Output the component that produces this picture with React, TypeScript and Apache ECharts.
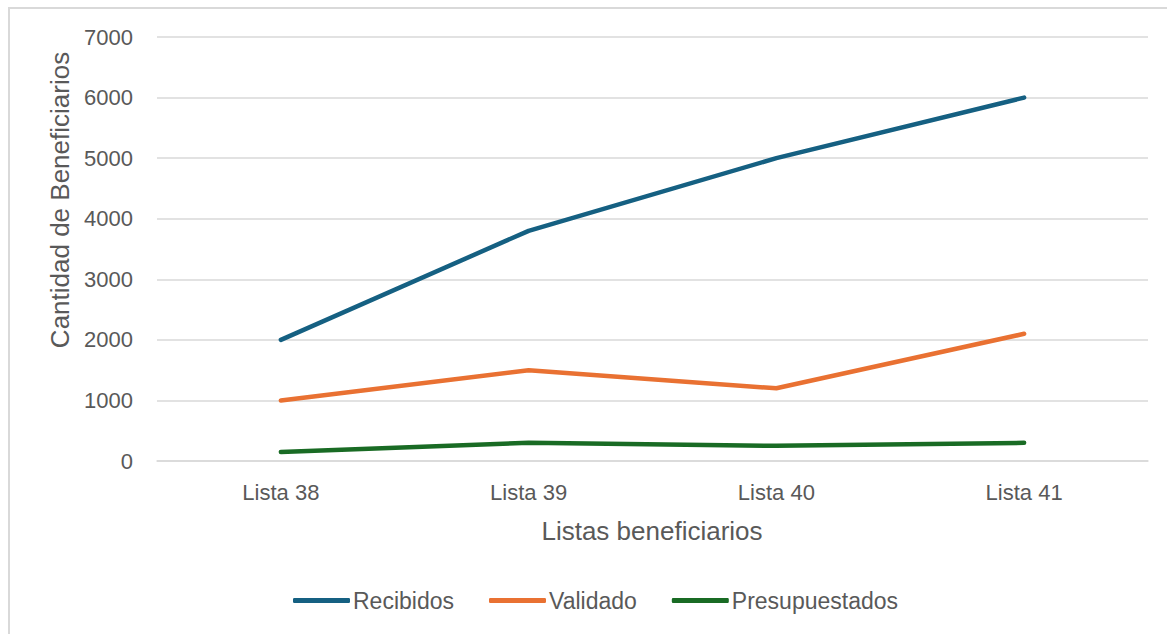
import React, { useEffect, useRef } from "react";
import * as echarts from "echarts";

const categories = ["Lista 38", "Lista 39", "Lista 40", "Lista 41"];
const recibidos = [2000, 3800, 5000, 6000];
const validado = [1000, 1500, 1200, 2100];
const presupuestados = [150, 300, 250, 300];
const seriesNames = ["Recibidos", "Validado", "Presupuestados"];
const colors = ["#156082", "#E97132", "#196B24"];

const FONT = "'Liberation Sans', Arial, sans-serif";
const TXT = "#595959";

export default function App() {
  const ref = useRef<HTMLDivElement>(null);
  useEffect(() => {
    if (!ref.current) return;
    const chart = echarts.init(ref.current, undefined, { renderer: "svg" });
    const data = [recibidos, validado, presupuestados];
    chart.setOption({
      animation: false,
      backgroundColor: "#ffffff",
      textStyle: { fontFamily: FONT, color: TXT },
      grid: { left: 157, right: 19, top: 37, bottom: 173, containLabel: false },
      graphic: [
        {
          type: "rect",
          shape: { x: 9, y: 8, width: 1175, height: 640 },
          style: { fill: "none", stroke: "#d9d9d9", lineWidth: 2 },
          silent: true,
        },
        {
          type: "text",
          x: 60,
          y: 200,
          rotation: Math.PI / 2,
          style: {
            text: "Cantidad de Beneficiarios",
            fill: TXT,
            font: `26px ${FONT}`,
            align: "center",
            verticalAlign: "middle",
          },
        },
        {
          type: "text",
          x: 652,
          y: 531,
          style: {
            text: "Listas beneficiarios",
            fill: TXT,
            font: `26px ${FONT}`,
            align: "center",
            verticalAlign: "middle",
          },
        },
      ],
      legend: {
        data: seriesNames,
        top: 584,
        left: 288,
        icon: "roundRect",
        itemWidth: 57,
        itemHeight: 5,
        itemGap: 35,
        textStyle: { fontFamily: FONT, fontSize: 23, color: TXT, padding: [0, 0, 0, -2] },
      },
      xAxis: {
        type: "category",
        data: categories,
        boundaryGap: true,
        axisLine: { show: true, lineStyle: { color: "#d9d9d9", width: 1.5 } },
        axisTick: { show: false },
        axisLabel: { fontFamily: FONT, fontSize: 22, color: TXT, margin: 20 },
      },
      yAxis: {
        type: "value",
        min: 0,
        max: 7000,
        interval: 1000,
        axisLine: { show: false },
        axisTick: { show: false },
        axisLabel: {
          fontFamily: FONT,
          fontSize: 22,
          color: TXT,
          margin: 24,
          formatter: (v: number) => String(v),
        },
        splitLine: { lineStyle: { color: "#d9d9d9", width: 1.5 } },
      },
      series: seriesNames.map((name, i) => ({
        name,
        type: "line",
        data: data[i],
        symbol: "none",
        color: colors[i],
        lineStyle: { color: colors[i], width: 4.5, cap: "round", join: "round" },
      })),
    });
    return () => chart.dispose();
  }, []);
  return (
    <div
      ref={ref}
      style={{ position: "absolute", left: 0, top: 0, width: 1167, height: 634 }}
    />
  );
}
